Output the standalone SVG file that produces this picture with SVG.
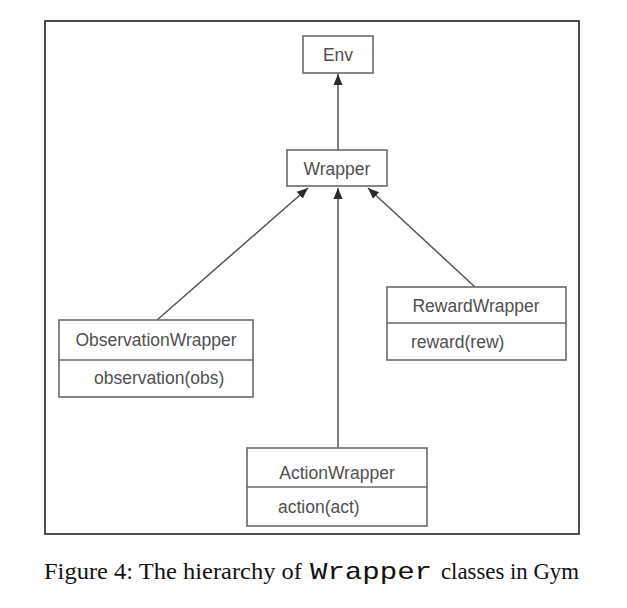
<svg xmlns="http://www.w3.org/2000/svg" width="627" height="608" viewBox="0 0 627 608">
  <style>
    .box { fill: #ffffff; stroke: #6a6a6a; stroke-width: 1.6; }
    .div { stroke: #6a6a6a; stroke-width: 1.6; }
    .lbl { font-family: "Liberation Sans", Arial, sans-serif; font-size: 17.5px; fill: #505050; }
    .mid { text-anchor: middle; }
    .conn { stroke: #555555; stroke-width: 1.5; fill: none; marker-end: url(#arrow); }
    .cap { font-family: "Liberation Serif", "Times New Roman", serif; font-size: 23px; fill: #111111; }
    .mono { font-family: "Liberation Mono", "Courier New", monospace; font-size: 24px; fill: #111111; }
  </style>
  <defs>
    <marker id="arrow" markerUnits="userSpaceOnUse" markerWidth="12" markerHeight="12" viewBox="0 0 12 12" refX="11" refY="6" orient="auto">
      <path d="M0,1.5 L11,6 L0,10.5 Z" fill="#2a2a2a"/>
    </marker>
  </defs>
  <rect width="627" height="608" fill="#ffffff"/>
  <rect id="frame" x="45" y="21" width="534" height="513" fill="none" stroke="#222222" stroke-width="1.6"/>

  <g id="connectors">
    <line class="conn" x1="338" y1="150" x2="338" y2="74"/>
    <line class="conn" x1="157" y1="320" x2="308" y2="188"/>
    <line class="conn" x1="338" y1="448" x2="338" y2="188"/>
    <line class="conn" x1="475" y1="287" x2="368" y2="188"/>
  </g>

  <g id="env">
    <rect class="box" x="303" y="36" width="70" height="37"/>
    <text class="lbl mid" x="338" y="61">Env</text>
  </g>

  <g id="wrapper">
    <rect class="box" x="287" y="150" width="100" height="36"/>
    <text class="lbl mid" x="337" y="175">Wrapper</text>
  </g>

  <g id="observationwrapper">
    <rect class="box" x="59" y="320" width="194" height="77"/>
    <line class="div" x1="59" y1="360" x2="253" y2="360"/>
    <text class="lbl mid" x="156" y="346">ObservationWrapper</text>
    <text class="lbl" x="94" y="384">observation(obs)</text>
  </g>

  <g id="rewardwrapper">
    <rect class="box" x="387" y="287" width="179" height="73"/>
    <line class="div" x1="387" y1="323" x2="566" y2="323"/>
    <text class="lbl mid" x="476" y="312">RewardWrapper</text>
    <text class="lbl" x="411" y="348">reward(rew)</text>
  </g>

  <g id="actionwrapper">
    <rect class="box" x="247" y="448" width="180" height="78"/>
    <line class="div" x1="247" y1="487" x2="427" y2="487"/>
    <text class="lbl mid" x="337" y="479">ActionWrapper</text>
    <text class="lbl" x="278" y="513">action(act)</text>
  </g>

  <g id="caption">
    <text class="cap" x="44" y="579" textLength="258" lengthAdjust="spacingAndGlyphs">Figure 4: The hierarchy of</text>
    <text class="mono" x="310" y="579" textLength="122" lengthAdjust="spacingAndGlyphs">Wrapper</text>
    <text class="cap" x="441" y="579" textLength="138" lengthAdjust="spacingAndGlyphs">classes in Gym</text>
  </g>
</svg>
